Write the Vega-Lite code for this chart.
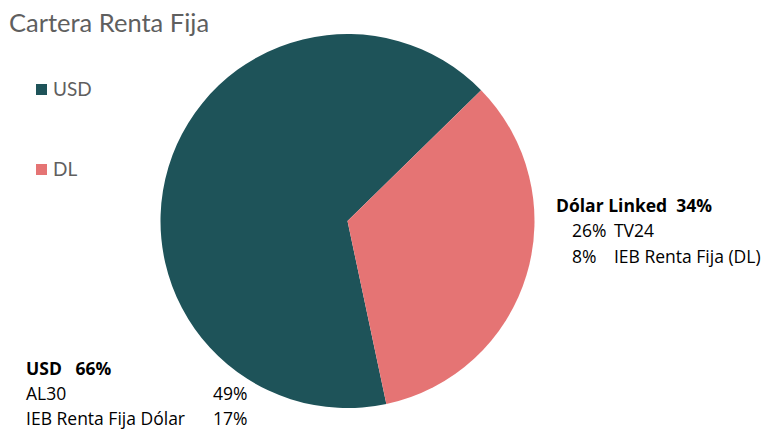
{
  "$schema": "https://vega.github.io/schema/vega-lite/v6.json",
  "width": 695,
  "height": 418,
  "autosize": "none",
  "padding": {"left": 0, "top": 12, "right": 76, "bottom": 0},
  "background": "white",
  "title": {"text": "Cartera Renta Fija", "anchor": "start", "frame": "group", "fontSize": 25.5, "font": "Lato", "fontWeight": "normal", "color": "#5f5f5f", "dx": 9, "dy": 25, "offset": 0},
  "data": {
    "values": [
      {"grupo": "USD", "nombre": "USD", "instrumento": "AL30", "pct": 49},
      {"grupo": "USD", "nombre": "USD", "instrumento": "IEB Renta Fija Dólar", "pct": 17},
      {"grupo": "DL", "nombre": "Dólar Linked", "instrumento": "TV24", "pct": 26},
      {"grupo": "DL", "nombre": "Dólar Linked", "instrumento": "IEB Renta Fija (DL)", "pct": 8}
    ]
  },
  "transform": [
    {"joinaggregate": [{"op": "sum", "field": "pct", "as": "total"}], "groupby": ["grupo"]},
    {"window": [{"op": "row_number", "as": "linea"}, {"op": "lead", "field": "instrumento", "as": "instr2"}, {"op": "lead", "field": "pct", "as": "pct2"}], "groupby": ["grupo"], "sort": [{"field": "pct", "order": "descending"}]},
    {"filter": "datum.linea == 1"},
    {"calculate": "datum.instrumento + '\\n' + datum.instr2", "as": "nombres"},
    {"calculate": "datum.pct + '%\\n' + datum.pct2 + '%'", "as": "pcts"}
  ],
  "encoding": {
    "theta": {"field": "total", "type": "quantitative", "stack": true, "scale": {"range": [0.796, 7.079]}},
    "order": {"field": "grupo", "type": "nominal", "sort": "ascending"}
  },
  "layer": [
    {
      "mark": {"type": "arc", "outerRadius": 187},
      "encoding": {
        "color": {"field": "grupo", "type": "nominal", "scale": {"domain": ["USD", "DL"], "range": ["#1E5359", "#E57474"]}, "legend": {"title": null}}
      }
    },
    {
      "transform": [{"calculate": "datum.nombre + '\u00a0\u00a0' + datum.total + '%'", "as": "enc"}],
      "mark": {"type": "text", "radius": 200, "dx": 17, "dy": -67, "align": "left", "baseline": "alphabetic", "font": "Open Sans", "fontSize": 17.5, "fontWeight": "bold", "color": "#000000"},
      "encoding": {"text": {"condition": {"test": "datum.grupo == 'DL'", "field": "enc"}, "value": ""}}
    },
    {
      "mark": {"type": "text", "radius": 200, "dx": 33, "dy": -42, "align": "left", "baseline": "alphabetic", "font": "Open Sans", "fontSize": 17.5, "lineBreak": "\n", "lineHeight": 25.7, "color": "#000000"},
      "encoding": {"text": {"condition": {"test": "datum.grupo == 'DL'", "field": "pcts"}, "value": ""}}
    },
    {
      "mark": {"type": "text", "radius": 200, "dx": 75, "dy": -42, "align": "left", "baseline": "alphabetic", "font": "Open Sans", "fontSize": 17.5, "lineBreak": "\n", "lineHeight": 25.7, "color": "#000000"},
      "encoding": {"text": {"condition": {"test": "datum.grupo == 'DL'", "field": "nombres"}, "value": ""}}
    },
    {
      "transform": [{"calculate": "datum.nombre + '\u00a0\u00a0\u00a0' + datum.total + '%'", "as": "enc"}],
      "mark": {"type": "text", "radius": 200, "dx": -130, "dy": 211.5, "align": "left", "baseline": "alphabetic", "font": "Open Sans", "fontSize": 17.5, "fontWeight": "bold", "color": "#000000"},
      "encoding": {"text": {"condition": {"test": "datum.grupo == 'USD'", "field": "enc"}, "value": ""}}
    },
    {
      "mark": {"type": "text", "radius": 200, "dx": -130, "dy": 237, "align": "left", "baseline": "alphabetic", "font": "Open Sans", "fontSize": 17.5, "lineBreak": "\n", "lineHeight": 24.8, "color": "#000000"},
      "encoding": {"text": {"condition": {"test": "datum.grupo == 'USD'", "field": "nombres"}, "value": ""}}
    },
    {
      "mark": {"type": "text", "radius": 200, "dx": 57, "dy": 237, "align": "left", "baseline": "alphabetic", "font": "Open Sans", "fontSize": 17.5, "lineBreak": "\n", "lineHeight": 24.8, "color": "#000000"},
      "encoding": {"text": {"condition": {"test": "datum.grupo == 'USD'", "field": "pcts"}, "value": ""}}
    }
  ],
  "config": {
    "view": {"stroke": null},
    "font": "Lato",
    "legend": {"orient": "none", "legendX": 32, "legendY": 68, "padding": 0, "symbolType": "square", "symbolSize": 121, "symbolStrokeWidth": 0, "labelFontSize": 19, "labelColor": "#5f5f5f", "labelOffset": 2, "rowPadding": 60, "labelFont": "Lato"}
  }
}
